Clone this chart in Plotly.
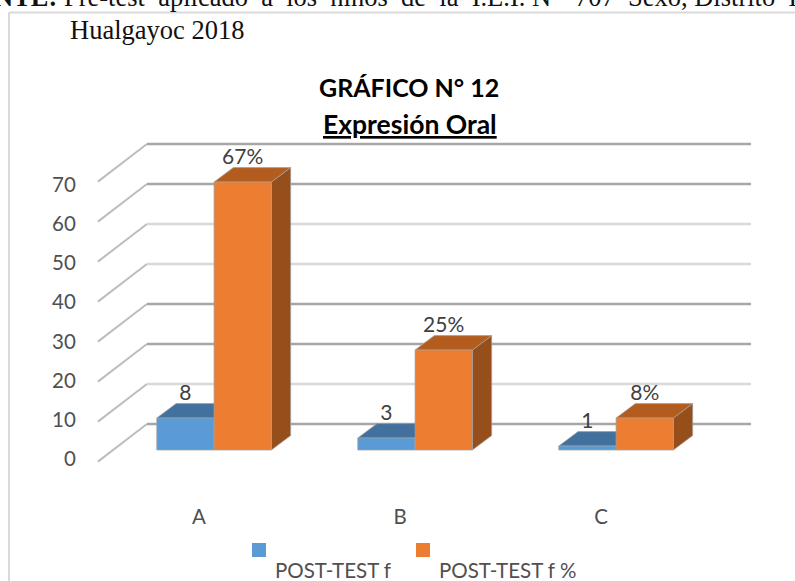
import plotly.graph_objects as go

categories = ["A", "B", "C"]
post_test_f = [8, 3, 1]
post_test_pct = [67, 25, 8]
y_ticks = [0, 10, 20, 30, 40, 50, 60, 70]
series_names = ["POST-TEST f", "POST-TEST f %"]

# fake 3D: everything is in axis units, depth offsets turn it into a box
BAR_W = 0.285
BAR_SHIFT = -0.21  # blue bar left edge relative to the category position
DEPTH_X = 0.096
DEPTH_Y = 3.6
WALL_X = 0.244
FLOOR_LEFT = -0.503
WALL_RIGHT = 2.746
BACK_UP = 6.5
FRONT_DOWN = -2.9

BLUE, BLUE_TOP = "#5B9BD5", "#41719C"
ORANGE, ORANGE_TOP, ORANGE_SIDE = "#ED7D31", "#B35C1E", "#964F1B"
EDGE = "#A0A0A0"
TEXT = "#505050"
GRID_COLORS = ["#A6A6A6", "#D9D9D9", "#A6A6A6", "#A6A6A6",
               "#D9D9D9", "#D9D9D9", "#A6A6A6", "#A6A6A6"]

L, R, T, B = 84, 795, 0, 500


def px(x):
    return (x - L) / (R - L)


def py(y):
    return (B - y) / (B - T)


fig = go.Figure()

# walls: floor-side slant plus the back wall line
for tick, color in zip(y_ticks, GRID_COLORS):
    fig.add_trace(go.Scatter(
        x=[FLOOR_LEFT, FLOOR_LEFT + WALL_X], y=[tick + FRONT_DOWN, tick + BACK_UP],
        mode="lines", line=dict(color="#BDBDBD", width=2),
        showlegend=False, hoverinfo="skip", zorder=0,
    ))
    fig.add_trace(go.Scatter(
        x=[FLOOR_LEFT + WALL_X, WALL_RIGHT], y=[tick + BACK_UP, tick + BACK_UP],
        mode="lines", line=dict(color=color, width=2.5),
        showlegend=False, hoverinfo="skip", zorder=0,
    ))


def box_faces(left, value, top_color, side_color, z):
    right = left + BAR_W
    if side_color:
        fig.add_trace(go.Scatter(
            x=[right, right + DEPTH_X, right + DEPTH_X, right, right],
            y=[0, DEPTH_Y, value + DEPTH_Y, value, 0],
            mode="lines", fill="toself", fillcolor=side_color,
            line=dict(color=EDGE, width=0.75),
            showlegend=False, hoverinfo="skip", zorder=z,
        ))
    fig.add_trace(go.Scatter(
        x=[left, left + DEPTH_X, right + DEPTH_X, right, left],
        y=[value, value + DEPTH_Y, value + DEPTH_Y, value, value],
        mode="lines", fill="toself", fillcolor=top_color,
        line=dict(color=EDGE, width=0.75),
        showlegend=False, hoverinfo="skip", zorder=z,
    ))


positions = list(range(len(categories)))
blue_left = [p + BAR_SHIFT for p in positions]
orange_left = [x + BAR_W for x in blue_left]

for left, value in zip(blue_left, post_test_f):
    box_faces(left, value, BLUE_TOP, None, 1)
fig.add_trace(go.Bar(
    x=positions, y=post_test_f, width=BAR_W, offset=BAR_SHIFT,
    name=series_names[0], marker=dict(color=BLUE, line=dict(color=EDGE, width=0.75)),
    zorder=2,
))
for left, value in zip(orange_left, post_test_pct):
    box_faces(left, value, ORANGE_TOP, ORANGE_SIDE, 3)
fig.add_trace(go.Bar(
    x=positions, y=post_test_pct, width=BAR_W, offset=BAR_SHIFT + BAR_W,
    name=series_names[1], marker=dict(color=ORANGE, line=dict(color=EDGE, width=0.75)),
    zorder=4,
))

# data labels
fig.add_trace(go.Scatter(
    x=[x + BAR_W / 2 for x in blue_left],
    y=[v + 5.8 for v in post_test_f],
    text=[str(v) for v in post_test_f],
    mode="text", textfont=dict(family="Lato", size=21, color="#404040"),
    showlegend=False, hoverinfo="skip", zorder=5,
))
fig.add_trace(go.Scatter(
    x=[x + BAR_W / 2 for x in orange_left],
    y=[v + 5.8 for v in post_test_pct],
    text=[f"{v}%" for v in post_test_pct],
    mode="text", textfont=dict(family="Lato", size=21, color="#404040"),
    showlegend=False, hoverinfo="skip", zorder=5,
))

serif = dict(family="Liberation Serif", color="#111111")
annotations = [
    dict(x=px(-8), y=py(-3), xanchor="left",
         text="<b>NTE:</b> Pre-test\u00a0 aplicado\u00a0 a\u00a0 los\u00a0 niños\u00a0 de\u00a0 la\u00a0 I.E.I. N°\u00a0 707\u00a0 Sexo, Distrito\u00a0 H",
         font=dict(size=26.5, **serif)),
    dict(x=px(68), y=py(30), xanchor="left",
         text="Hualgayoc 2018", font=dict(size=26.5, **serif)),
    dict(x=px(409), y=py(87), text="<b>GRÁFICO N° 12</b>",
         font=dict(family="Lato", size=25, color="black")),
    dict(x=px(410), y=py(124), text="<b><u>Expresión Oral</u></b>",
         font=dict(family="Lato", size=26.5, color="black")),
    dict(x=px(273), y=py(570), xanchor="left", text=series_names[0],
         font=dict(family="Lato", size=20.5, color=TEXT)),
    dict(x=px(437), y=py(570), xanchor="left", text=series_names[1],
         font=dict(family="Lato", size=20.5, color=TEXT)),
]
for a in annotations:
    a.update(xref="paper", yref="paper", yanchor="middle", showarrow=False)

shapes = [
    # chart frame, only top and left are visible
    dict(type="line", xref="paper", yref="paper", x0=px(9), x1=px(795), y0=py(12.5), y1=py(12.5),
         line=dict(color="#D9D9D9", width=2)),
    dict(type="line", xref="paper", yref="paper", x0=px(9), x1=px(9), y0=py(12.5), y1=py(581),
         line=dict(color="#D9D9D9", width=2)),
    # legend keys
    dict(type="rect", xref="paper", yref="paper", x0=px(252), x1=px(266), y0=py(543), y1=py(557),
         fillcolor=BLUE, line_width=0),
    dict(type="rect", xref="paper", yref="paper", x0=px(416), x1=px(430), y0=py(543), y1=py(557),
         fillcolor=ORANGE, line_width=0),
]

fig.update_layout(
    width=795,
    height=581,
    margin=dict(l=L, r=795 - R, t=T, b=581 - B),
    paper_bgcolor="white",
    plot_bgcolor="white",
    showlegend=False,
    barmode="overlay",
    annotations=annotations,
    shapes=shapes,
)
fig.update_xaxes(
    range=[(L - 199) / 201, (R - 199) / 201],
    tickmode="array",
    tickvals=positions,
    ticktext=categories,
    tickfont=dict(family="Lato", size=20.5, color=TEXT),
    ticklabelstandoff=2,
    showgrid=False,
    zeroline=False,
    showline=False,
)
fig.update_yaxes(
    range=[(450 - B) / 4, (450 - T) / 4],
    tickmode="array",
    # the labels are spaced a little tighter than the box itself
    tickvals=[0.98 * t - 2.25 for t in y_ticks],
    ticktext=[str(t) for t in y_ticks],
    tickfont=dict(family="Lato", size=20.5, color=TEXT),
    showgrid=False,
    zeroline=False,
    showline=False,
    ticks="outside",
    ticklen=3,
    tickcolor="rgba(0,0,0,0)",
)

fig.write_html(
    "out.html",
    config={"displayModeBar": False},
    post_script="document.body.style.margin='0';document.body.style.overflow='hidden';",
)
